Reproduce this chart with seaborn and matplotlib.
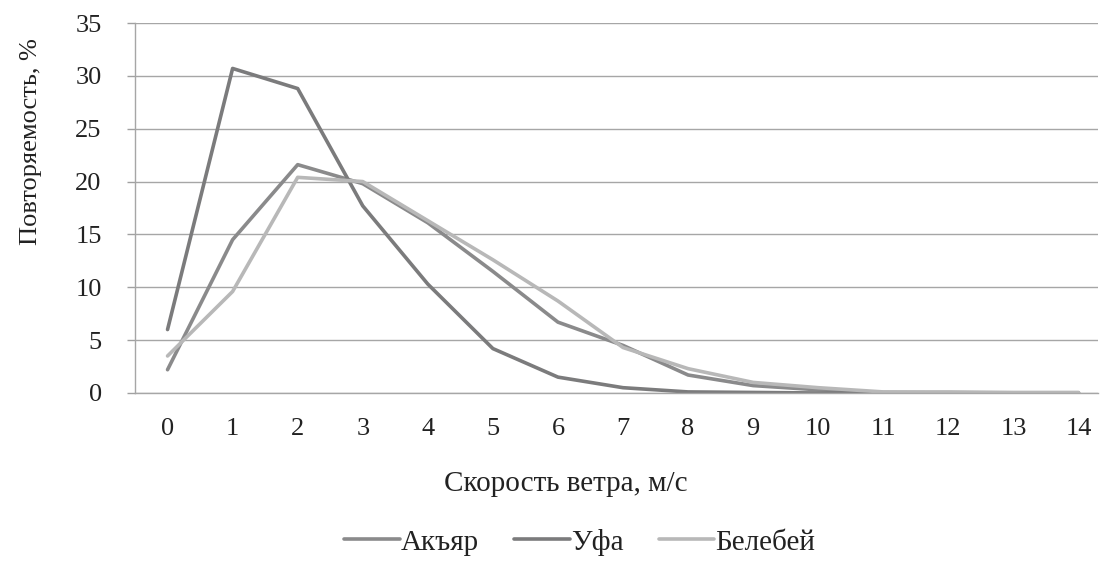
import numpy as np
import pandas as pd
import seaborn as sns
import matplotlib.pyplot as plt

# скорость ветра, м/с и повторяемость, %
speed = list(range(15))
akyar = [2.2, 14.5, 21.6, 19.8, 16.1, 11.5, 6.7, 4.5, 1.7, 0.7, 0.3, 0.05, 0.0, 0.0, 0.0]
ufa = [6.0, 30.7, 28.8, 17.7, 10.3, 4.2, 1.5, 0.5, 0.1, 0.05, 0.0, 0.0, 0.0, 0.0, 0.0]
belebey = [3.5, 9.6, 20.4, 20.0, 16.3, 12.6, 8.7, 4.3, 2.3, 1.0, 0.5, 0.1, 0.1, 0.05, 0.05]
names = ["Акъяр", "Уфа", "Белебей"]

df = pd.DataFrame({"speed": speed * 3,
                   "value": akyar + ufa + belebey,
                   "station": np.repeat(names, len(speed))})

sns.set_theme(style="white")
plt.rcParams["font.family"] = ["Liberation Serif", "DejaVu Serif"]

fig = plt.figure(figsize=(11.03, 5.61), dpi=100)
ax = fig.add_axes([0.1224, 0.2995, 0.8731, 0.6595])

pal = {"Акъяр": "#8a8a8b", "Уфа": "#7b7b7c", "Белебей": "#b8b8b8"}
sns.lineplot(data=df, x="speed", y="value", hue="station", hue_order=names,
             palette=pal, linewidth=2.6, ax=ax, legend=True)

ax.set_ylim(0, 35)
ax.set_xlim(-0.5, 14.3)
ax.set_yticks(range(0, 36, 5))
ax.set_xticks(speed)
ax.set_xticks(np.arange(-0.5, 14.5, 1), minor=True)
ax.tick_params(axis="x", which="major", length=0, pad=18, labelsize=19, labelcolor="#222222")
ax.tick_params(axis="x", which="minor", length=6, color="#a0a0a0", width=1)
ax.tick_params(axis="y", length=6, color="#a0a0a0", width=1, pad=18, labelsize=19,
               labelcolor="#222222", left=True)
ax.grid(axis="y", color="#a6a6a6", linewidth=1)
ax.set_axisbelow(True)
for s in ["top", "right"]:
    ax.spines[s].set_visible(False)
for s in ["left", "bottom"]:
    ax.spines[s].set_color("#a6a6a6")
    ax.spines[s].set_linewidth(1)

ax.set_xlabel("Скорость ветра, м/с", fontsize=21, color="#222222")
ax.xaxis.set_label_coords(0.447, -0.212)
ax.set_ylabel("Повторяемость, %", fontsize=19, color="#222222")
ax.yaxis.set_label_coords(-0.097, 0.68)

leg = ax.legend(loc="center", bbox_to_anchor=(0.462, -0.403), ncol=3, frameon=False,
                fontsize=21, handlelength=1.9, handletextpad=0.05, columnspacing=1.2)
for t in leg.get_texts():
    t.set_color("#222222")

plt.savefig("out.png", dpi=100)
plt.close()
